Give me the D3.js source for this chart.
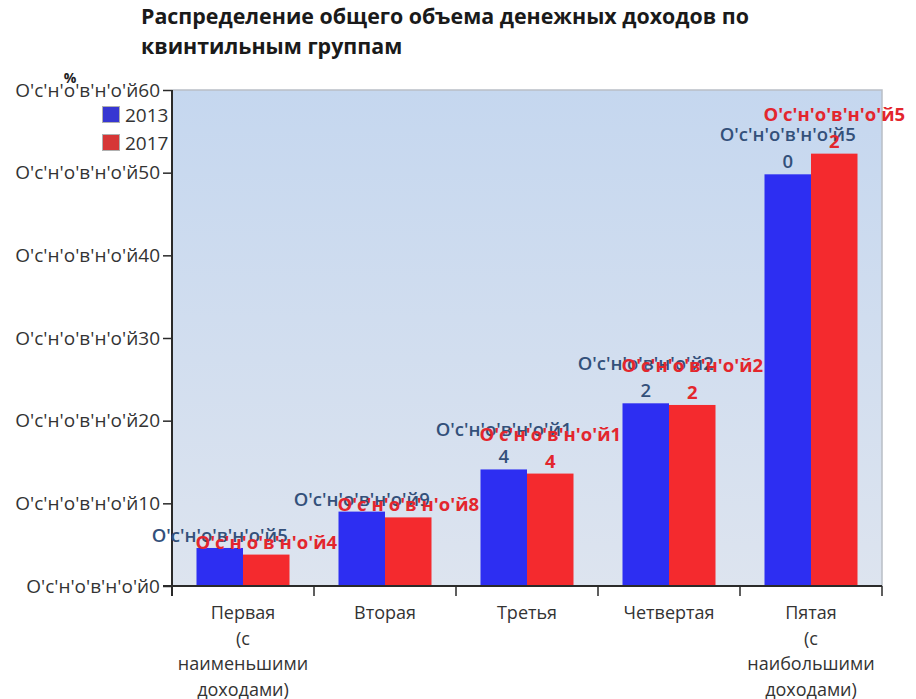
<!DOCTYPE html>
<html>
<head>
<meta charset="utf-8">
<script src="https://cdn.jsdelivr.net/npm/d3@7"></script>
<style>
  html, body { margin: 0; padding: 0; background: #fff; }
  svg { display: block; font-family: "Open Sans", sans-serif; }
</style>
</head>
<body>
<svg id="chart" width="916" height="699"></svg>
<script>
// Quintile groups (categories), one label line per array entry
const categories = ["Первая", "Вторая", "Третья", "Четвертая", "Пятая"];
const categoryLines = [
  ["Первая", "(с", "наименьшими", "доходами)"],
  ["Вторая"],
  ["Третья"],
  ["Четвертая"],
  ["Пятая", "(с", "наибольшими", "доходами)"]
];
const seriesNames = ["2013", "2017"];
const values2013 = [4.6, 9.0, 14.1, 22.1, 49.8];
const values2017 = [3.8, 8.3, 13.6, 21.9, 52.3];
const yTicks = [0, 10, 20, 30, 40, 50, 60];
const numPrefix = "О'с'н'о'в'н'о'й";
const titleLines = ["Распределение общего объема денежных доходов по", "квинтильным группам"];

const barColors = ["#2d2ef2", "#f42a2e"];
const legendColors = ["#3636d2", "#d63636"];
const labelColors = ["#33507a", "#e3262d"];

const svg = d3.select("#chart");
const plot = { left: 172, right: 882, top: 90, bottom: 586 };

const x0 = d3.scaleBand().domain(categories).range([plot.left, plot.right]).padding(0);
const x1 = d3.scaleBand().domain(seriesNames)
  .range([24.5, x0.bandwidth() - 24.5]).padding(0);
const y = d3.scaleLinear().domain([0, 60]).range([plot.bottom, plot.top]);

// plot background gradient
const defs = svg.append("defs");
const grad = defs.append("linearGradient").attr("id", "bg").attr("x1", 0).attr("y1", 0).attr("x2", 0).attr("y2", 1);
grad.append("stop").attr("offset", "0%").attr("stop-color", "#c5d7ef");
grad.append("stop").attr("offset", "100%").attr("stop-color", "#dde4ef");

svg.append("rect")
  .attr("x", plot.left).attr("y", plot.top)
  .attr("width", plot.right - plot.left).attr("height", plot.bottom - plot.top)
  .attr("fill", "url(#bg)");
svg.append("path")
  .attr("d", `M${plot.left},${plot.top}H${plot.right}V${plot.bottom}`)
  .attr("fill", "none").attr("stroke", "#b9bec6").attr("stroke-width", 1.5);

// title
svg.append("g").selectAll("text").data(titleLines).join("text")
  .attr("x", 141).attr("y", (d, i) => 24 + i * 30)
  .attr("font-size", 21.4).attr("font-weight", 700).attr("fill", "#1a1a1a")
  .text(d => d);

// bars
const series = [values2013, values2017];
const groups = svg.append("g").selectAll("g").data(categories).join("g")
  .attr("transform", d => `translate(${x0(d)},0)`);

groups.selectAll("rect")
  .data((d, i) => seriesNames.map((s, k) => ({ s, k, v: series[k][i] })))
  .join("rect")
  .attr("x", d => x1(d.s))
  .attr("width", x1.bandwidth())
  .attr("y", d => y(d.v))
  .attr("height", d => y(0) - y(d.v))
  .attr("fill", d => barColors[d.k]);

// y axis
const yAxis = d3.axisLeft(y).tickValues(yTicks).tickSize(9).tickPadding(3)
  .tickFormat(d => numPrefix + d);
const yg = svg.append("g").attr("transform", `translate(${plot.left},0)`).call(yAxis);
yg.select(".domain").attr("stroke", "#2a2a2a").attr("stroke-width", 2)
  .attr("d", `M0,${plot.top}V${plot.bottom + 10}`);
yg.selectAll(".tick line").attr("stroke", "#2a2a2a").attr("stroke-width", 1.5);
yg.selectAll(".tick text").attr("font-size", 19).attr("fill", "#333")
  .attr("font-family", "Open Sans, sans-serif");

// x axis: ticks at group boundaries, labels at group centres
const xg = svg.append("g");
xg.append("line").attr("x1", plot.left - 9).attr("x2", plot.right)
  .attr("y1", plot.bottom).attr("y2", plot.bottom)
  .attr("stroke", "#2a2a2a").attr("stroke-width", 2);
const bounds = categories.map(c => x0(c)).concat([x0.range()[1]]);
xg.selectAll("line.tk").data(bounds).join("line").attr("class", "tk")
  .attr("x1", d => d).attr("x2", d => d)
  .attr("y1", plot.bottom).attr("y2", plot.bottom + 10)
  .attr("stroke", "#2a2a2a").attr("stroke-width", 1.5);
const xl = xg.selectAll("text.cat").data(categories).join("text").attr("class", "cat")
  .attr("x", d => x0(d) + x0.bandwidth() / 2)
  .attr("text-anchor", "middle").attr("font-size", 18).attr("fill", "#333");
xl.selectAll("tspan").data((d, i) => categoryLines[i]).join("tspan")
  .attr("x", function () { return this.parentNode.getAttribute("x"); })
  .attr("y", (d, i) => 619 + i * 25.7)
  .text(d => d);

// value labels: number text wraps so the last digit drops to its own line
function labelLines(v) {
  const s = String(Math.round(v));
  return s.length > 1 ? [numPrefix + s.slice(0, -1), s.slice(-1)] : [numPrefix + s];
}
seriesNames.forEach((s, k) => {
  const g = svg.append("g");
  categories.forEach((c, i) => {
    const v = series[k][i];
    const cx = x0(c) + x1(s) + x1.bandwidth() / 2;
    const lines = labelLines(v);
    const base = y(v) - 6;
    g.append("text")
      .attr("text-anchor", "middle")
      .attr("font-size", 18.5)
      .attr("font-weight", k === 0 ? 600 : 700)
      .attr("fill", labelColors[k])
      .selectAll("tspan").data(lines).join("tspan")
      .attr("x", cx)
      .attr("y", (d, j) => base - (lines.length - 1 - j) * 27)
      .text(d => d);
  });
});

// legend
const lg = svg.append("g");
seriesNames.forEach((s, k) => {
  lg.append("rect").attr("x", 102.5).attr("y", 106.5 + k * 28)
    .attr("width", 17).attr("height", 16)
    .attr("fill", legendColors[k]).attr("stroke", "#b0b0b0").attr("stroke-width", 1);
  lg.append("text").attr("x", 125).attr("y", 121.5 + k * 28)
    .attr("font-size", 19).attr("fill", "#333").text(s);
});

// unit label
svg.append("text").attr("x", 70).attr("y", 83).attr("text-anchor", "middle")
  .attr("font-size", 14).attr("font-weight", 700).attr("fill", "#222").text("%");
</script>
</body>
</html>
